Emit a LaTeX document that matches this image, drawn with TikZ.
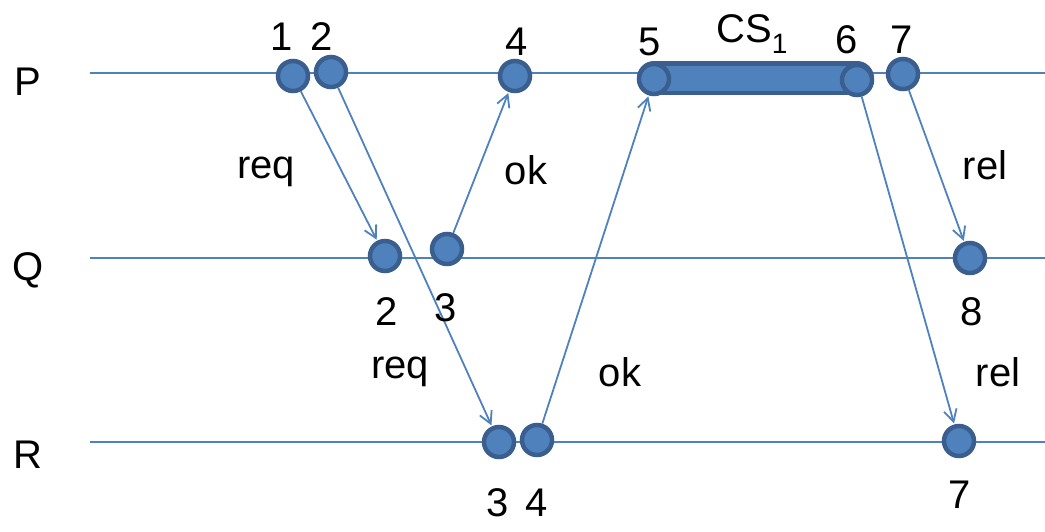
\documentclass[tikz,border=0pt]{standalone}
\usepackage{fontspec}
\setmainfont{Liberation Sans}
\usetikzlibrary{arrows.meta}
\definecolor{lblue}{HTML}{4F81BD}
\definecolor{dblue}{HTML}{3A5F8E}
\begin{document}
\begin{tikzpicture}[x=1pt,y=-1pt,
  ev/.style={circle,draw=dblue,fill=lblue,line width=4.5pt,minimum size=30pt,inner sep=0pt},
  tl/.style={draw=lblue,line width=1.8pt},
  msg/.style={draw=lblue,line width=1.8pt,-{Straight Barb[length=12pt,width=13pt,line width=1.8pt]},shorten >=1pt,shorten <=0pt},
  txt/.style={font=\fontsize{40}{44}\selectfont,inner sep=0pt,anchor=center}]
\useasboundingbox (0,0) rectangle (1045,531);
% process labels
\node[txt] (lP) at (28,82) {P};
\node[txt] (lQ) at (28,270) {Q};
\node[txt] (lR) at (28,455) {R};
% time lines
\coordinate (pa) at (90,73); \coordinate (pb) at (1045,73);
\coordinate (qa) at (90,258); \coordinate (qb) at (1045,258);
\coordinate (ra) at (90,442); \coordinate (rb) at (1045,442);
\draw[tl] (pa) -- (pb);
\draw[tl] (qa) -- (qb);
\draw[tl] (ra) -- (rb);
% critical section bar
\coordinate (c5) at (654,78);
\coordinate (c6) at (857,78);
\draw[dblue,line width=34pt,line cap=round] (c5) -- (c6);
\draw[lblue,line width=25pt,line cap=round] (c5) -- (c6);
% events
\node[ev] (P1) at (293,76) {};
\node[ev] (P2) at (331,72) {};
\node[ev] (P4) at (515,76) {};
\node[ev] (P5) at (654,79) {};
\node[ev] (P6) at (857,80) {};
\node[ev] (P7) at (903,74) {};
\node[ev] (Q2) at (385,256) {};
\node[ev] (Q3) at (447,249) {};
\node[ev] (Q8) at (970,258) {};
\node[ev] (R3) at (499,442) {};
\node[ev] (R4) at (537,440) {};
\node[ev] (R7) at (959,441) {};
% messages
\draw[msg] (P1) -- (Q2);
\draw[msg] (P2) -- (R3);
\draw[msg] (Q3) -- (P4);
\draw[msg] (R4) -- (P5);
\draw[msg] (P6) -- (R7);
\draw[msg] (P7) -- (Q8);
% message labels
\node[txt] (m1) at (266,172) {req};
\node[txt] (m2) at (400,372) {req};
\node[txt] (m3) at (526,170) {ok};
\node[txt] (m4) at (620,372) {ok};
\node[txt] (m5) at (998,372) {rel};
\node[txt] (m6) at (985,165) {rel};
% event numbers
\node[txt] (n1) at (282,37) {1};
\node[txt] (n2) at (322,37) {2};
\node[txt] (n4) at (517,42) {4};
\node[txt] (n5) at (650,42) {5};
\node[txt] (cs) at (752,34) {CS\textsubscript{1}};
\node[txt] (n6) at (847,40) {6};
\node[txt] (n7) at (902,40) {7};
\node[txt] (q2) at (387,312) {2};
\node[txt] (q3) at (446,308) {3};
\node[txt] (q8) at (972,312) {8};
\node[txt] (r3) at (498,503) {3};
\node[txt] (r4) at (537,503) {4};
\node[txt] (r7) at (960,495) {7};
\end{tikzpicture}
\end{document}
